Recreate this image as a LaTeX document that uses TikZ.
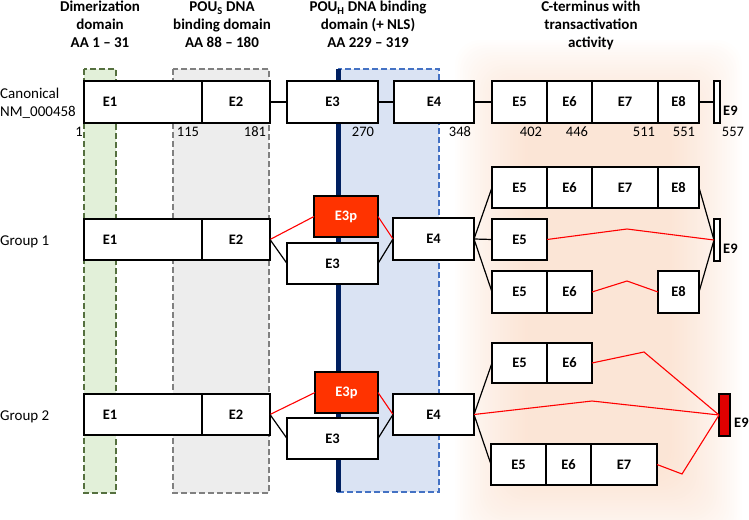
\documentclass[tikz,border=0pt]{standalone}
\usepackage{fontspec}
\setmainfont{Carlito}
\definecolor{glowc}{HTML}{F8CBAD}
\definecolor{grnfill}{HTML}{E2F0D9}
\definecolor{grndraw}{HTML}{55703F}
\definecolor{gryfill}{HTML}{EDEDED}
\definecolor{grydraw}{HTML}{808080}
\definecolor{blufill}{HTML}{DAE3F3}
\definecolor{bludraw}{HTML}{4472C4}
\definecolor{navy}{HTML}{002060}
\definecolor{e3pred}{HTML}{FF3300}
\definecolor{e9red}{HTML}{E00000}
\begin{document}
\begin{tikzpicture}[x=1pt,y=-1pt,
  exon/.style={draw=black, fill=white, line width=1.8pt, inner sep=0pt, outer sep=0pt,
    anchor=north west, font=\fontsize{14.5}{17}\selectfont\bfseries},
  e3p/.style={exon, fill=e3pred, text=white},
  lbl/.style={inner sep=0pt, font=\fontsize{14.5}{17}\selectfont\bfseries},
  ttl/.style={inner sep=0pt, anchor=base, font=\fontsize{15}{18}\selectfont\bfseries},
  num/.style={inner sep=0pt, anchor=base, font=\fontsize{14.5}{17}\selectfont},
  row/.style={inner sep=0pt, anchor=base west, font=\fontsize{15}{18}\selectfont},
  e9l/.style={inner sep=0pt, anchor=base west, font=\fontsize{14.5}{17}\selectfont\bfseries},
  dom/.style={dashed, dash pattern=on 6pt off 3pt, line width=2pt},
  bl/.style={draw=black, line width=1.2pt},
  rd/.style={draw=red, line width=1.1pt}]
\useasboundingbox (0,0) rectangle (749,519);
% glow
\foreach \i in {0,...,29} {
  \fill[glowc, opacity=0.025, rounded corners=25pt] ({455+2.5*\i},{40+2.5*\i}) rectangle ({742-2.5*\i},{545-2.5*\i});
}
% domains
\draw[dom, fill=grnfill, draw=grndraw] (84,69) rectangle (116,493);
\draw[dom, fill=gryfill, draw=grydraw] (173,69) rectangle (269,493);
\draw[dom, fill=blufill, draw=bludraw] (338,69) rectangle (439,492);
\draw[navy, line width=5pt] (338,69) -- (338,492);
% titles
\node[ttl] (t1a) at (100,12) {Dimerization};
\node[ttl] (t1b) at (100,30) {domain};
\node[ttl] (t1c) at (100,48) {AA 1 – 31};
\node[ttl] (t2a) at (222,12) {POU\textsubscript{S} DNA};
\node[ttl] (t2b) at (222,30) {binding domain};
\node[ttl] (t2c) at (222,48) {AA 88 – 180};
\node[ttl] (t3a) at (368,12) {POU\textsubscript{H} DNA binding};
\node[ttl] (t3b) at (368,30) {domain (+ NLS)};
\node[ttl] (t3c) at (368,48) {AA 229 – 319};
\node[ttl] (t4a) at (591,12) {C-terminus with};
\node[ttl] (t4b) at (591,30) {transactivation};
\node[ttl] (t4c) at (591,48) {activity};
% row labels
\node[row] (r0a) at (0,98) {Canonical};
\node[row] (r0b) at (0,116) {NM\_000458};
\node[row] (r1) at (0,245) {Group 1};
\node[row] (r2) at (0,420) {Group 2};
% canonical
\node[exon, minimum width=118pt, minimum height=42pt] (c1) at (84,81) {};
\node[lbl] (c1t) at (110,102) {E1};
\node[exon, minimum width=68pt, minimum height=42pt] (c2) at (202,81) {E2};
\node[exon, minimum width=91pt, minimum height=42pt] (c3) at (287,81) {E3};
\node[exon, minimum width=80pt, minimum height=42pt] (c4) at (394,81) {E4};
\node[exon, minimum width=55pt, minimum height=42pt] (c5) at (492,81) {E5};
\node[exon, minimum width=45pt, minimum height=42pt] (c6) at (547,81) {E6};
\node[exon, minimum width=66pt, minimum height=42pt] (c7) at (592,81) {E7};
\node[exon, minimum width=41pt, minimum height=42pt] (c8) at (658,81) {E8};
\node[exon, line width=1.5pt, minimum width=6pt, minimum height=42pt] (c9) at (714,81) {};
\node[e9l] (c9t) at (723,115) {E9};
\draw[bl] (c2.east) -- (c3.west);
\draw[bl] (c3.east) -- (c4.west);
\draw[bl] (c4.east) -- (c5.west);
\draw[bl] (c8.east) -- (c9.west);
% numbers
\node[num] (n1) at (79,136) {1};
\node[num] (n115) at (188,136) {115};
\node[num] (n181) at (255,136) {181};
\node[num] (n270) at (363,136) {270};
\node[num] (n348) at (460,136) {348};
\node[num] (n402) at (531,136) {402};
\node[num] (n446) at (577,136) {446};
\node[num] (n511) at (644,136) {511};
\node[num] (n551) at (684,136) {551};
\node[num] (n557) at (733,136) {557};
% group 1
\node[exon, minimum width=118pt, minimum height=41pt] (a1) at (84,219) {};
\node[lbl] (a1t) at (110,239.5) {E1};
\node[exon, minimum width=68pt, minimum height=41pt] (a2) at (202,219) {E2};
\node[e3p, minimum width=64pt, minimum height=41pt] (a3p) at (314,196) {E3p};
\node[exon, minimum width=91pt, minimum height=41pt] (a3) at (287,243) {E3};
\node[exon, minimum width=81pt, minimum height=42pt] (a4) at (393,218) {E4};
\node[exon, minimum width=55pt, minimum height=41pt] (at5) at (492,167) {E5};
\node[exon, minimum width=45pt, minimum height=41pt] (at6) at (547,167) {E6};
\node[exon, minimum width=66pt, minimum height=41pt] (at7) at (592,167) {E7};
\node[exon, minimum width=41pt, minimum height=41pt] (at8) at (658,167) {E8};
\node[exon, minimum width=55pt, minimum height=41pt] (am5) at (492,219) {E5};
\node[exon, minimum width=55pt, minimum height=42pt] (ab5) at (492,271) {E5};
\node[exon, minimum width=45pt, minimum height=42pt] (ab6) at (547,271) {E6};
\node[exon, minimum width=41pt, minimum height=42pt] (ab8) at (658,271) {E8};
\node[exon, line width=1.5pt, minimum width=6pt, minimum height=42pt] (a9) at (714,219) {};
\node[e9l] (a9t) at (723,253) {E9};
\coordinate (ak1) at (627,229);
\coordinate (ak2) at (627,281);
\draw[rd] (a2.east) -- (a3p.west);
\draw[bl] (a2.east) -- (a3.west);
\draw[rd] (a3p.east) -- (a4.west);
\draw[bl] (a3.east) -- (a4.west);
\draw[bl] (a4.east) -- (at5.west);
\draw[bl] (a4.east) -- (am5.west);
\draw[bl] (a4.east) -- (ab5.west);
\draw[bl] (at8.east) -- (a9.west);
\draw[bl] (ab8.east) -- (a9.west);
\draw[rd] (am5.east) -- (ak1) -- (a9.west);
\draw[rd] (ab6.east) -- (ak2) -- (ab8.west);
% group 2
\node[exon, minimum width=118pt, minimum height=41pt] (b1) at (84,394) {};
\node[lbl] (b1t) at (110,414.5) {E1};
\node[exon, minimum width=68pt, minimum height=41pt] (b2) at (202,394) {E2};
\node[e3p, minimum width=63pt, minimum height=41pt] (b3p) at (315,372) {E3p};
\node[exon, minimum width=91pt, minimum height=41pt] (b3) at (287,418) {E3};
\node[exon, minimum width=81pt, minimum height=41pt] (b4) at (393,394) {E4};
\node[exon, minimum width=55pt, minimum height=40pt] (bt5) at (492,343) {E5};
\node[exon, minimum width=45pt, minimum height=40pt] (bt6) at (547,343) {E6};
\node[exon, minimum width=55pt, minimum height=41pt] (bb5) at (491,444) {E5};
\node[exon, minimum width=45pt, minimum height=41pt] (bb6) at (546,444) {E6};
\node[exon, minimum width=66pt, minimum height=41pt] (bb7) at (591,444) {E7};
\node[exon, fill=e9red, line width=1.5pt, minimum width=11pt, minimum height=42pt] (b9) at (719,394) {};
\node[e9l] (b9t) at (734,427) {E9};
\coordinate (bk1) at (592,401);
\coordinate (bk2) at (644,352);
\coordinate (bk3) at (682,474);
\draw[rd] (b2.east) -- (b3p.west);
\draw[bl] (b2.east) -- (b3.west);
\draw[rd] (b3p.east) -- (b4.west);
\draw[bl] (b3.east) -- (b4.west);
\draw[bl] (b4.east) -- (bt5.west);
\draw[bl] (b4.east) -- (bb5.west);
\draw[rd] (b4.east) -- (bk1) -- (b9.west);
\draw[rd] (bt6.east) -- (bk2) -- (b9.west);
\draw[rd] (bb7.east) -- (bk3) -- (b9.west);
\end{tikzpicture}
\end{document}
